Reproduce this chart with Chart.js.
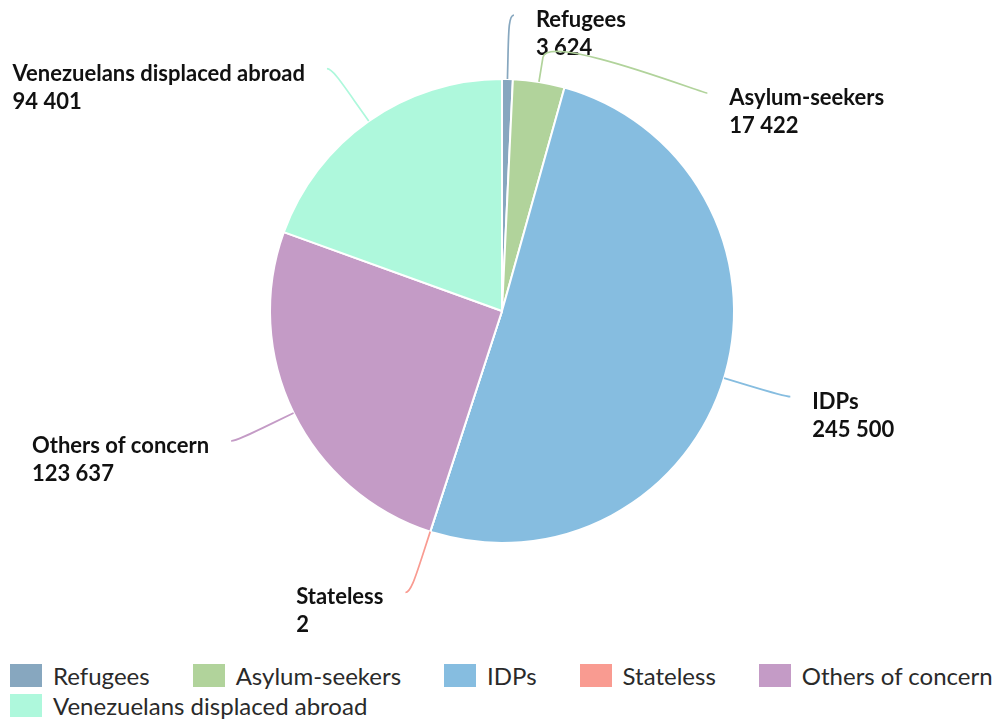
<!DOCTYPE html>
<html>
<head>
<meta charset="utf-8">
<script src="https://cdn.jsdelivr.net/npm/chart.js@4.4.1/dist/chart.umd.min.js"></script>
<style>
  html, body { margin: 0; padding: 0; background: #fff; }
  #wrap { position: relative; width: 997px; height: 719px; overflow: hidden; }
  #c { position: absolute; left: 0; top: 0; }
  #legend { position: absolute; left: 10px; top: 663px; width: 1045px; display: flex; flex-wrap: wrap; font-family: Lato, sans-serif; font-size: 24px; color: #2a2a2a; }
  .item { display: flex; align-items: center; height: 24px; margin-right: 43px; margin-bottom: 6px; white-space: nowrap; }
  .box { width: 32px; height: 23px; margin-right: 11px; flex: none; }
</style>
</head>
<body>
<div id="wrap">
  <canvas id="c" width="997" height="650"></canvas>
  <div id="legend"></div>
</div>
<script>
const categories = ['Refugees', 'Asylum-seekers', 'IDPs', 'Stateless', 'Others of concern', 'Venezuelans displaced abroad'];
const values = [3624, 17422, 245500, 2, 123637, 94401];
const colors = ['#87a7bf', '#b1d39b', '#86bde0', '#f99b91', '#c49bc6', '#aef8dc'];

function fmt(v) {
  return String(v).replace(/\B(?=(\d{3})+(?!\d))/g, ' ');
}

const labelPlugin = {
  id: 'pieLabels',
  afterDatasetsDraw(chart) {
    const ctx = chart.ctx;
    const meta = chart.getDatasetMeta(0);
    const items = [];
    meta.data.forEach((arc, i) => {
      const p = arc.getProps(['x', 'y', 'startAngle', 'endAngle', 'outerRadius'], true);
      const mid = (p.startAngle + p.endAngle) / 2;
      const dx = Math.cos(mid), dy = Math.sin(mid);
      const r = p.outerRadius;
      const R2 = r + 64;
      items.push({
        i, cx: p.x, cy: p.y, R2,
        side: dx >= 0 ? 1 : -1,
        p0: { x: p.x + dx * r, y: p.y + dy * r },
        b: { x: p.x + dx * (r + 25), y: p.y + dy * (r + 25) },
        e: { x: p.x + dx * R2, y: p.y + dy * R2 }
      });
    });
    const S = 78;
    [1, -1].forEach(side => {
      const list = items.filter(t => t.side === side).sort((a, b) => a.e.y - b.e.y);
      for (let k = 1; k < list.length; k++) {
        const prev = list[k - 1], cur = list[k];
        if (cur.e.y < prev.e.y + S) {
          cur.e.y = prev.e.y + S;
          const ddy = cur.e.y - cur.cy;
          const ddx = Math.sqrt(Math.max(cur.R2 * cur.R2 - ddy * ddy, 0));
          cur.e.x = cur.cx + side * ddx;
        }
      }
    });
    ctx.save();
    items.forEach(t => {
      const s = t.side;
      ctx.beginPath();
      ctx.strokeStyle = colors[t.i];
      ctx.lineWidth = 1.7;
      ctx.moveTo(t.e.x + s * 5, t.e.y);
      ctx.bezierCurveTo(t.e.x, t.e.y, 2 * t.b.x - t.p0.x, 2 * t.b.y - t.p0.y, t.b.x, t.b.y);
      ctx.lineTo(t.p0.x, t.p0.y);
      ctx.stroke();

      ctx.font = 'bold 22px Lato, sans-serif';
      ctx.fillStyle = '#111';
      ctx.textBaseline = 'alphabetic';
      ctx.textAlign = 'left';
      const l1 = categories[t.i], l2 = fmt(values[t.i]);
      const w = Math.max(ctx.measureText(l1).width, ctx.measureText(l2).width);
      const tx = s > 0 ? t.e.x + 27 : t.e.x - 27 - w;
      const ty = t.e.y + 12;
      ctx.fillText(l1, tx, ty);
      ctx.fillText(l2, tx, ty + 28);
    });
    ctx.restore();
  }
};

new Chart(document.getElementById('c'), {
  type: 'pie',
  data: {
    labels: categories,
    datasets: [{
      data: values,
      backgroundColor: colors,
      borderColor: '#ffffff',
      borderWidth: 2
    }]
  },
  options: {
    responsive: false,
    animation: false,
    radius: 232,
    layout: { padding: { left: 7, right: 0, top: 0, bottom: 28 } },
    plugins: {
      legend: { display: false },
      tooltip: { enabled: false }
    }
  },
  plugins: [labelPlugin]
});

const leg = document.getElementById('legend');
categories.forEach((c, i) => {
  const it = document.createElement('div');
  it.className = 'item';
  const b = document.createElement('span');
  b.className = 'box';
  b.style.background = colors[i];
  const t = document.createElement('span');
  t.textContent = c;
  it.appendChild(b);
  it.appendChild(t);
  leg.appendChild(it);
});
</script>
</body>
</html>
